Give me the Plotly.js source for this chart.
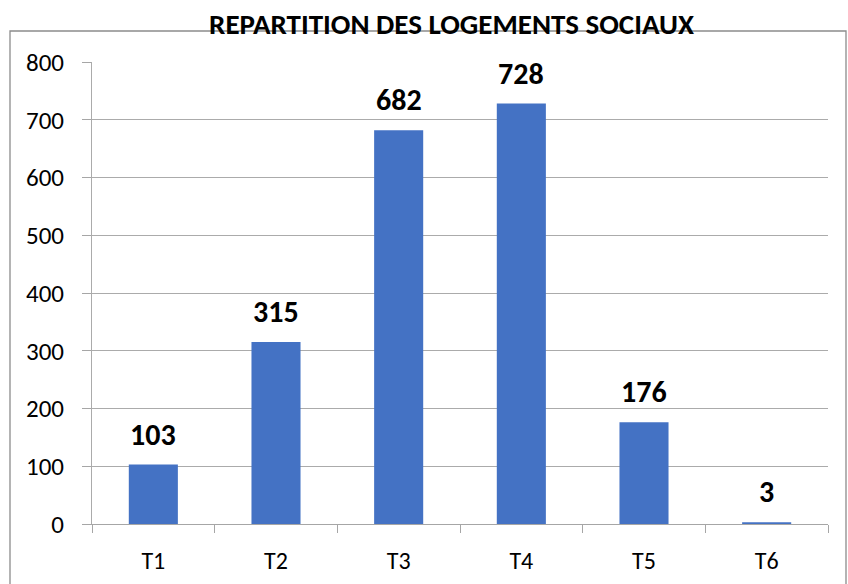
<!DOCTYPE html>
<html>
<head>
<meta charset="utf-8">
<script src="https://cdn.plot.ly/plotly-3.0.1.min.js"></script>
<style>html,body{margin:0;padding:0;background:#fff}#chart{width:848px;height:584px}</style>
</head>
<body>
<div id="chart"></div>
<script>
const categories = ["T1", "T2", "T3", "T4", "T5", "T6"];
const values = [103, 315, 682, 728, 176, 3];
const yTicks = [0, 100, 200, 300, 400, 500, 600, 700, 800];

const FONT = "Carlito, Calibri, 'Liberation Sans Narrow', 'Liberation Sans', sans-serif";

const trace = {
  type: "bar",
  x: categories,
  y: values,
  width: 0.4,
  marker: {color: "#4472C4"},
  hoverinfo: "x+y"
};

const annotations = categories.map((c, i) => ({
  x: c, y: values[i], xref: "x", yref: "y",
  text: "<b>" + String(values[i]) + "</b>",
  showarrow: false, yanchor: "bottom", yshift: 10,
  font: {family: FONT, size: 30, color: "#000"}
}));

const layout = {
  width: 848, height: 584,
  margin: {l: 92, r: 20, t: 62, b: 60},
  paper_bgcolor: "#fff", plot_bgcolor: "#fff",
  showlegend: false,
  bargap: 0.6,
  title: {
    text: "<b>REPARTITION DES LOGEMENTS SOCIAUX</b>",
    font: {family: FONT, size: 29, color: "#000"},
    x: 451.5 / 848, xref: "container", xanchor: "center",
    y: 1 - 24/584, yref: "container", yanchor: "middle"
  },
  xaxis: {
    type: "category",
    tickson: "boundaries",
    ticks: "outside", ticklen: 8, tickcolor: "#A6A6A6", tickwidth: 1,
    showline: true, linecolor: "#A6A6A6", linewidth: 1,
    showgrid: false,
    tickfont: {family: FONT, size: 24, color: "#000"},
    ticklabelstandoff: 15
  },
  yaxis: {
    range: [0, 800],
    tickvals: yTicks,
    ticktext: yTicks.map(String),
    showgrid: true, gridcolor: "#ABABAB", gridwidth: 1,
    zeroline: true, zerolinecolor: "#A6A6A6",
    showline: true, linecolor: "#ABABAB", linewidth: 1,
    ticks: "outside", ticklen: 9, tickcolor: "#A6A6A6",
    tickfont: {family: FONT, size: 25, color: "#000"},
    ticklabelstandoff: 13,
    fixedrange: true
  },
  annotations: annotations,
  shapes: [{
    type: "rect", xref: "paper", yref: "paper",
    x0: (10 - 92) / 736, x1: (846 - 92) / 736,
    y0: (524 - 600) / 462, y1: (524 - 31) / 462,
    line: {color: "#8C8C8C", width: 1.3}, fillcolor: "rgba(0,0,0,0)", layer: "below"
  }]
};

Plotly.newPlot("chart", [trace], layout, {displayModeBar: false, staticPlot: true});
</script>
</body>
</html>
